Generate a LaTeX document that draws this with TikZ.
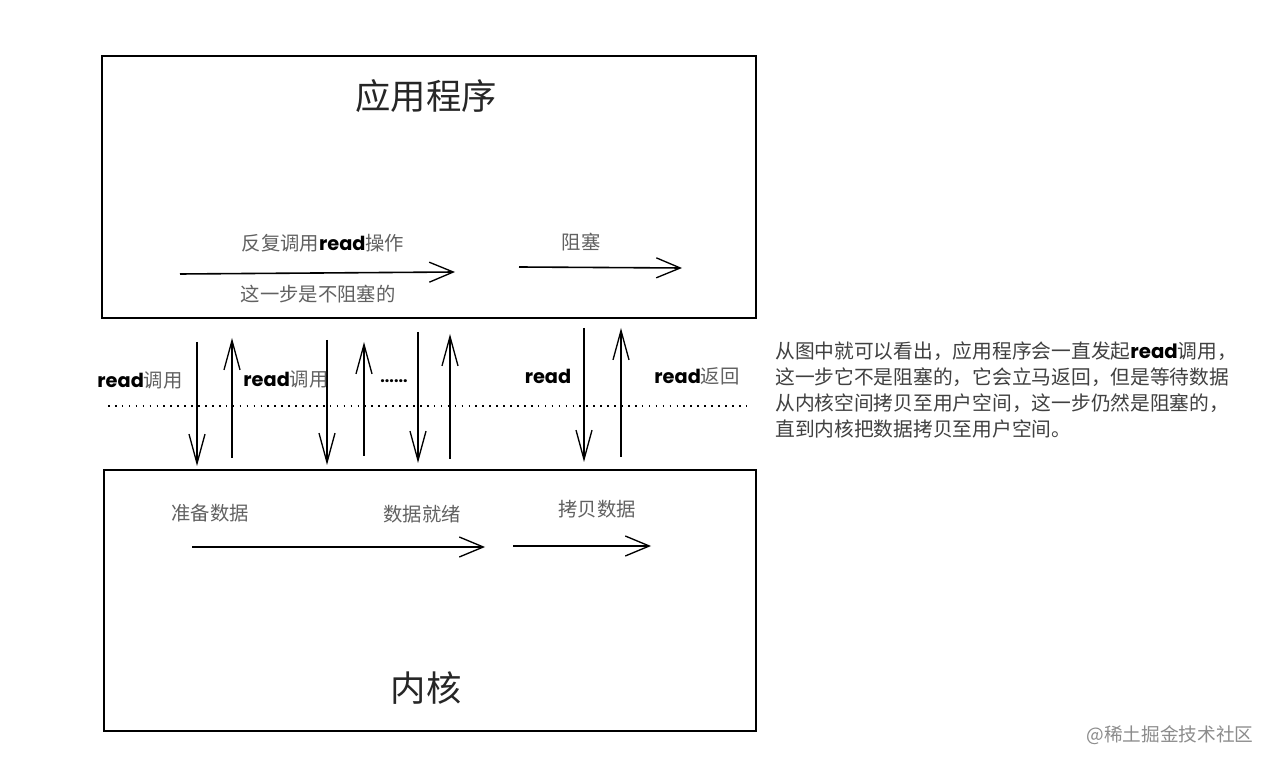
\documentclass[tikz,border=0pt]{standalone}
\usepackage{fontspec}
\setmainfont{Noto Sans CJK SC}
\newfontfamily\cjk{Noto Sans CJK SC}
\newfontfamily\hand{Poppins}
\usetikzlibrary{arrows.meta}
\newcommand{\rd}{{\hand\bfseries\color{black}read}}
\begin{document}
\begin{tikzpicture}[x=0.75pt,y=-0.75pt,
  box/.style={draw=black,line width=1.3pt},
  harrow/.style={line width=1.2pt,-{Straight Barb[length=18pt,width=15pt,line width=1pt]}},
  varrow/.style={line width=1pt,-{Straight Barb[length=22pt,width=12pt,line width=1pt]}},
  lbl/.style={font=\cjk\fontsize{14.5}{16}\selectfont,text=black!62,inner sep=0pt},
  title/.style={font=\cjk\fontsize{26.5}{30}\selectfont,text=black!85,inner sep=0pt},
  note/.style={font=\cjk\fontsize{14.8}{19.5}\selectfont,text=black!75,align=left,inner sep=0pt,anchor=north west}]
\useasboundingbox (0,0) rectangle (1272,766);
\fill[white] (0,0) rectangle (1272,766);
% boxes
\draw[box] (102,56) rectangle (756,318);
\draw[box] (104,470) rectangle (756,731);
\node[title] (app) at (426,96) {应用程序};
\node[title] (kern) at (426,688) {内核};
% top arrows
\coordinate (a1s) at (180,274); \coordinate (a1e) at (455,272);
\draw[harrow] (a1s) -- (a1e);
\node[lbl] (l1) at (323,243) {反复调用\rd 操作};
\node[lbl] (l2) at (318,294) {这一步是不阻塞的};
\coordinate (a2s) at (519,267); \coordinate (a2e) at (682,268);
\draw[harrow] (a2s) -- (a2e);
\node[lbl] (l3) at (581,242) {阻塞};
% dotted line
\coordinate (d1) at (108,406); \coordinate (d2) at (750,406);
\draw[line width=1pt,dash pattern=on 1.2pt off 4pt] (d1) -- (d2);
% vertical arrows
\coordinate (v1a) at (197,342); \coordinate (v1b) at (197,466);
\coordinate (v2a) at (232,458); \coordinate (v2b) at (232,338);
\coordinate (v3a) at (327,340); \coordinate (v3b) at (327,465);
\coordinate (v4a) at (364,456); \coordinate (v4b) at (364,342);
\coordinate (v5a) at (418,332); \coordinate (v5b) at (418,463);
\coordinate (v6a) at (450,459); \coordinate (v6b) at (450,334);
\coordinate (v7a) at (584,328); \coordinate (v7b) at (584,462);
\coordinate (v8a) at (621,457); \coordinate (v8b) at (621,328);
\foreach \p in {1,...,8}{\draw[varrow] (v\p a) -- (v\p b);}
\node[lbl] (r1) at (140,380) {\rd 调用};
\node[lbl] (r2) at (286,379) {\rd 调用};
\node[font=\hand\bfseries\fontsize{12}{14}\selectfont,inner sep=0pt] (dots) at (394,381) {......};
\node[lbl] (r3) at (548,376) {\rd};
\node[lbl] (r4) at (697,376) {\rd 返回};
% bottom arrows
\node[lbl] (b1) at (210,513) {准备数据};
\node[lbl] (b2) at (422,514) {数据就绪};
\node[lbl] (b3) at (597,509) {拷贝数据};
\coordinate (c1s) at (192,547); \coordinate (c1e) at (485,547);
\draw[harrow] (c1s) -- (c1e);
\coordinate (c2s) at (513,546); \coordinate (c2e) at (651,546);
\draw[harrow] (c2s) -- (c2e);
% note
\node[note] (note) at (775,342) {从图中就可以看出，应用程序会一直发起\rd 调用，\\这一步它不是阻塞的，它会立马返回，但是等待数据\\从内核空间拷贝至用户空间，这一步仍然是阻塞的，\\直到内核把数据拷贝至用户空间。};
\node[font=\cjk\fontsize{14}{16}\selectfont,text=black!45,inner sep=0pt] (wm) at (1170,735) {@稀土掘金技术社区};
\end{tikzpicture}
\end{document}
